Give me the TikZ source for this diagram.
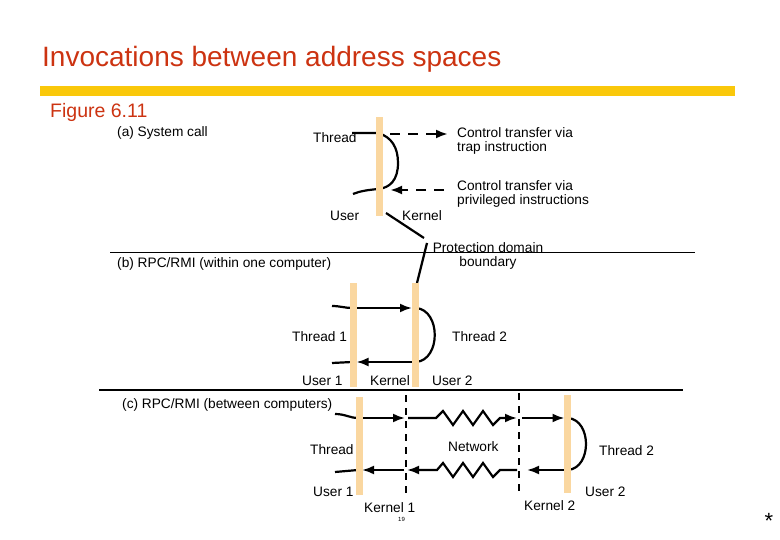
\documentclass[tikz,border=0pt]{standalone}
\usepackage{fontspec}
\setmainfont{Liberation Sans}
\usetikzlibrary{arrows.meta}
\definecolor{titlered}{RGB}{204,51,17}
\definecolor{ybar}{RGB}{250,200,10}
\definecolor{beige}{RGB}{250,215,160}
\begin{document}
\begin{tikzpicture}[x=1pt,y=-1pt,
  lbl/.style={anchor=base west, inner sep=0pt, font=\fontsize{13.7}{16}\selectfont},
  bar/.style={fill=beige, draw=none, minimum width=7pt, inner sep=0pt},
  conn/.style={line width=2.2pt},
  arr/.style={line width=2.2pt, -{Latex[length=12pt,width=9pt]}},
  dsh/.style={line width=2.6pt, dash pattern=on 10pt off 8pt, -{Latex[length=12pt,width=9pt]}},
  kdash/.style={line width=2.6pt, dash pattern=on 7pt off 6pt},
  sep/.style={line width=1.2pt}]
\useasboundingbox (0,0) rectangle (780,540);

% header
\node[anchor=base west, inner sep=0pt, text=titlered, font=\fontsize{28}{30}\selectfont] (title) at (42,67) {Invocations between address spaces};
\node[fill=ybar, draw=none, minimum width=695pt, minimum height=10pt, inner sep=0pt, anchor=north west] (ybar) at (40,85.5) {};
\node[anchor=base west, inner sep=0pt, text=titlered, font=\fontsize{19.5}{22}\selectfont] (fig) at (50,118) {Figure 6.11};

% ---------- (a) ----------
\node[lbl] (capa) at (117,137) {(a) System call};
\node[lbl] (thA) at (313,143) {Thread};
\node[lbl] (ctr1) at (457,138) {Control transfer via};
\node[lbl] (ctr2) at (457,152) {trap instruction};
\node[lbl] (cpr1) at (457,191) {Control transfer via};
\node[lbl] (cpr2) at (457,205) {privileged instructions};
\node[lbl] (userA) at (330,221) {User};
\node[lbl] (kernA) at (402,221) {Kernel};
\node[anchor=base, inner sep=0pt, align=center, font=\fontsize{13.7}{14}\selectfont] (prot) at (488,267) {Protection domain\\boundary};

\coordinate (tA1) at (352,133);
\coordinate (tA2) at (353,194);
\draw[conn] (tA1) -- (378,133) .. controls (392,137) and (398,148) .. (398,163)
  .. controls (398,180) and (390,188) .. (378,189) .. controls (368,190) and (360,191) .. (tA2);

\coordinate (dA1) at (390,134);
\coordinate (dA2) at (448,134);
\coordinate (dB1) at (444,190);
\coordinate (dB2) at (390,190);
\draw[dsh] (dA1) -- (dA2);
\draw[dsh] (dB1) -- (dB2);

\node[bar, minimum height=99pt] (barA) at (379,166.5) {};

\coordinate (pA1) at (386,213);
\coordinate (pA2) at (424,238);
\coordinate (pB1) at (427,243);
\coordinate (pB2) at (417,283);
\draw[conn] (pA1) -- (pA2);
\draw[conn] (pB1) -- (pB2);

\coordinate (s1a) at (110,252.5);
\coordinate (s1b) at (695,252.5);
\draw[sep] (s1a) -- (s1b);

% ---------- (b) ----------
\node[lbl] (capb) at (117,268) {(b) RPC/RMI (within one computer)};
\node[lbl] (th1b) at (292,342) {Thread 1};
\node[lbl] (th2b) at (452,342) {Thread 2};
\node[lbl] (u1b) at (302,385) {User 1};
\node[lbl] (kb) at (370,385) {Kernel};
\node[lbl] (u2b) at (432,385) {User 2};

\coordinate (bt0) at (332,306);
\coordinate (bt1) at (352,308);
\coordinate (bt2) at (412,308);
\coordinate (bc1) at (416,308);
\coordinate (bc2) at (416,362);
\coordinate (bb1) at (412,362);
\coordinate (bb2) at (356.5,362);
\coordinate (bb3) at (352,362);
\coordinate (bb4) at (332,363);
\draw[conn] (bt0) .. controls (340,306) and (345,308) .. (bt1);
\draw[arr] (bt1) -- (bt2);
\draw[conn] (bc1) .. controls (441,310) and (441,360) .. (bc2);
\draw[arr] (bb1) -- (bb2);
\draw[conn] (bb3) -- (bb4);

\node[bar, minimum height=104pt] (b1) at (353,335) {};
\node[bar, minimum height=104pt] (b2) at (415,335) {};

\coordinate (s2a) at (99,390);
\coordinate (s2b) at (683,390);
\draw[sep] (s2a) -- (s2b);

% ---------- (c) ----------
\node[lbl] (capc) at (122,408) {(c) RPC/RMI (between computers)};
\node[lbl] (thc) at (310,454) {Thread};
\node[lbl] (net) at (448,451) {Network};
\node[lbl] (th2c) at (599,455) {Thread 2};
\node[lbl] (u1c) at (313,496) {User 1};
\node[lbl] (u2c) at (585,496) {User 2};
\node[lbl] (k1c) at (364,512) {Kernel 1};
\node[lbl] (k2c) at (524,510) {Kernel 2};

% kernel boundaries (dashed)
\coordinate (k1a) at (406,395);
\coordinate (k1b) at (406,496);
\coordinate (k2a) at (519,393);
\coordinate (k2b) at (519,496);
\draw[kdash] (k1a) -- (k1b);
\draw[kdash] (k2a) -- (k2b);

% top path
\coordinate (ct0) at (335,414);
\coordinate (ct1) at (358,418);
\coordinate (ct2) at (405,418);
\coordinate (ct3) at (408,418);
\coordinate (ct4) at (517,418);
\coordinate (ct5) at (522,418);
\coordinate (ct6) at (564.5,418);
\draw[conn] (ct0) .. controls (345,414) and (350,418) .. (ct1);
\draw[arr] (ct1) -- (ct2);
\draw[arr] (ct3) -- (436,418) -- (443,411) -- (453,425) -- (463,411) -- (473,425) -- (483,411) -- (493,425) -- (500,418) -- (ct4);
\draw[arr] (ct5) -- (ct6);

% reply curve in user 2
\coordinate (cc1) at (568,418);
\coordinate (cc2) at (568,470);
\draw[conn] (cc1) .. controls (592,420) and (592,468) .. (cc2);

% bottom path
\coordinate (cb1) at (566,470);
\coordinate (cb2) at (527,470);
\coordinate (cb3) at (517,470);
\coordinate (cb4) at (407,470);
\coordinate (cb5) at (404,470);
\coordinate (cb6) at (362,470);
\coordinate (cb7) at (358,470);
\coordinate (cb8) at (335,472);
\draw[arr] (cb1) -- (cb2);
\draw[arr] (cb3) -- (500,470) -- (493,477) -- (483,463) -- (473,477) -- (463,463) -- (453,477) -- (443,463) -- (437,470) -- (cb4);
\draw[arr] (cb5) -- (cb6);
\draw[conn] (cb7) -- (cb8);

\node[bar, minimum height=98pt] (c1) at (359,446) {};
\node[bar, minimum height=98pt] (c2) at (567,444) {};

% footer
\node[anchor=base west, inner sep=0pt, font=\fontsize{6}{7}\selectfont] (pg) at (398,521) {19};
\node[inner sep=0pt, font=\fontsize{22}{24}\selectfont] (star) at (769,521) {*};
\end{tikzpicture}
\end{document}
